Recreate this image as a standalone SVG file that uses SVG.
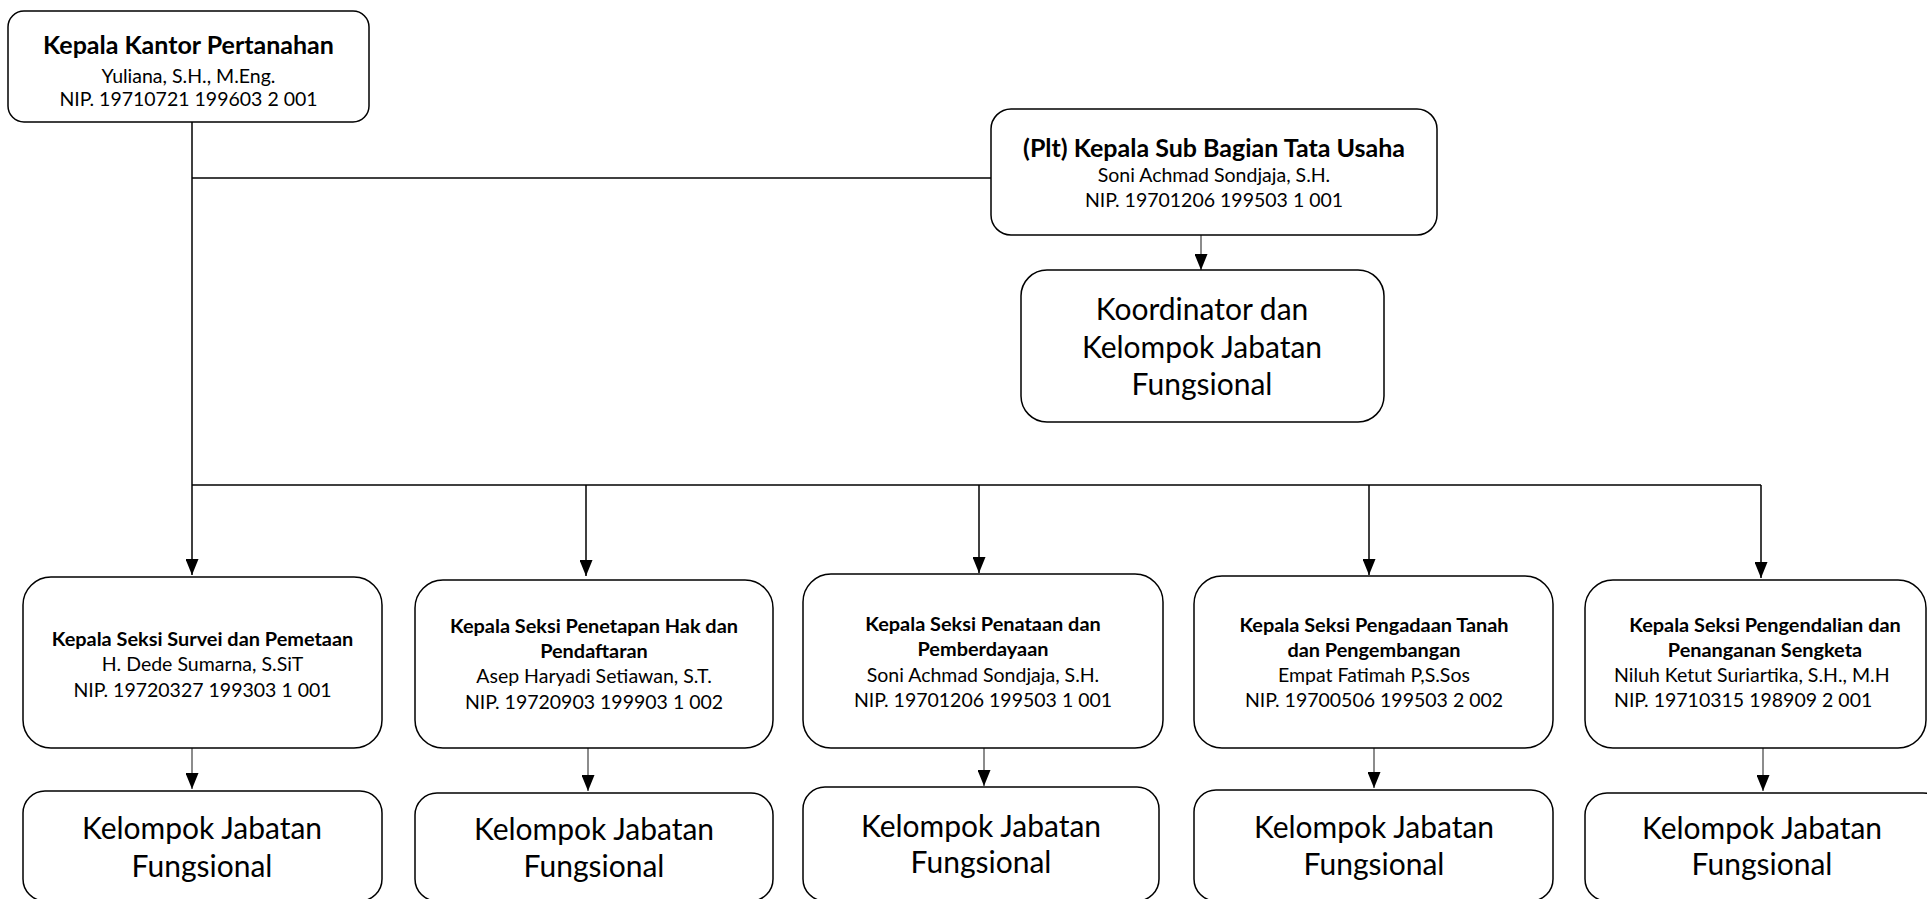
<svg xmlns="http://www.w3.org/2000/svg" width="1927" height="899" viewBox="0 0 1927 899">
<defs>
<style>
.box{fill:#fff;stroke:#000;stroke-width:1.5}
.t{font-family:Lato,"Liberation Sans",sans-serif;fill:#000;text-anchor:middle}
.tl{font-family:Lato,"Liberation Sans",sans-serif;fill:#000;text-anchor:start}
.h1{font-size:25px;font-weight:bold}
.h2{font-size:19.9px;font-weight:bold}
.s{font-size:19.5px}
.big{font-size:30px}
.ln{fill:none;stroke:#000;stroke-width:1.5}
.lg{fill:none;stroke:#666;stroke-width:1.5}
</style>
<marker id="arr" viewBox="0 0 16 13" refX="16" refY="6.5" markerWidth="16" markerHeight="13" markerUnits="userSpaceOnUse" orient="auto">
<path d="M0,0 L16,6.5 L0,13 z" fill="#000"/>
</marker>
</defs>
<rect width="1927" height="899" fill="#fff"/>
<g id="connectors">
<path class="ln" d="M192,122 V575" marker-end="url(#arr)"/>
<path class="ln" d="M192,178 H991"/>
<path class="ln" d="M192,485 H1761"/>
<path class="ln" d="M586,485 V576" marker-end="url(#arr)"/>
<path class="ln" d="M979,485 V573" marker-end="url(#arr)"/>
<path class="ln" d="M1369,485 V575" marker-end="url(#arr)"/>
<path class="ln" d="M1761,485 V578" marker-end="url(#arr)"/>
<path class="lg" d="M1201,235 V270" marker-end="url(#arr)"/>
<path class="lg" d="M192,748 V789" marker-end="url(#arr)"/>
<path class="lg" d="M588,748 V791" marker-end="url(#arr)"/>
<path class="lg" d="M984,748 V786" marker-end="url(#arr)"/>
<path class="lg" d="M1374,748 V788" marker-end="url(#arr)"/>
<path class="lg" d="M1763,748 V791" marker-end="url(#arr)"/>
</g>
<g id="kepala-kantor">
<rect class="box" x="8" y="11" width="361" height="111" rx="16"/>
<text class="t h1" x="188.5" y="54">Kepala Kantor Pertanahan</text>
<text class="t s" x="188.5" y="83">Yuliana, S.H., M.Eng.</text>
<text class="t s" x="188.5" y="106">NIP. 19710721 199603 2 001</text>
</g>
<g id="kasubag-tu">
<rect class="box" x="991" y="109" width="446" height="126" rx="20"/>
<text class="t h1" x="1214" y="157">(Plt) Kepala Sub Bagian Tata Usaha</text>
<text class="t s" x="1214" y="182">Soni Achmad Sondjaja, S.H.</text>
<text class="t s" x="1214" y="207">NIP. 19701206 199503 1 001</text>
</g>
<g id="koordinator">
<rect class="box" x="1021" y="270" width="363" height="152" rx="26"/>
<text class="t big" x="1202" y="320">Koordinator dan</text>
<text class="t big" x="1202" y="358">Kelompok Jabatan</text>
<text class="t big" x="1202" y="395">Fungsional</text>
</g>
<g id="seksi-survei">
<rect class="box" x="23" y="577" width="359" height="171" rx="28"/>
<text class="t h2" x="202.5" y="646">Kepala Seksi Survei dan Pemetaan</text>
<text class="t s" x="202.5" y="671">H. Dede Sumarna, S.SiT</text>
<text class="t s" x="202.5" y="697">NIP. 19720327 199303 1 001</text>
</g>
<g id="seksi-penetapan">
<rect class="box" x="415" y="580" width="358" height="168" rx="28"/>
<text class="t h2" x="594" y="633">Kepala Seksi Penetapan Hak dan</text>
<text class="t h2" x="594" y="658">Pendaftaran</text>
<text class="t s" x="594" y="683">Asep Haryadi Setiawan, S.T.</text>
<text class="t s" x="594" y="709">NIP. 19720903 199903 1 002</text>
</g>
<g id="seksi-penataan">
<rect class="box" x="803" y="574" width="360" height="174" rx="28"/>
<text class="t h2" x="983" y="631">Kepala Seksi Penataan dan</text>
<text class="t h2" x="983" y="656">Pemberdayaan</text>
<text class="t s" x="983" y="682">Soni Achmad Sondjaja, S.H.</text>
<text class="t s" x="983" y="707">NIP. 19701206 199503 1 001</text>
</g>
<g id="seksi-pengadaan">
<rect class="box" x="1194" y="576" width="359" height="172" rx="28"/>
<text class="t h2" x="1374" y="632">Kepala Seksi Pengadaan Tanah</text>
<text class="t h2" x="1374" y="657">dan Pengembangan</text>
<text class="t s" x="1374" y="682">Empat Fatimah P,S.Sos</text>
<text class="t s" x="1374" y="707">NIP. 19700506 199503 2 002</text>
</g>
<g id="seksi-pengendalian">
<rect class="box" x="1585" y="580" width="341" height="168" rx="28"/>
<text class="t h2" x="1765" y="632">Kepala Seksi Pengendalian dan</text>
<text class="t h2" x="1765" y="657">Penanganan Sengketa</text>
<text class="tl s" x="1614" y="682">Niluh Ketut Suriartika, S.H., M.H</text>
<text class="tl s" x="1614" y="707">NIP. 19710315 198909 2 001</text>
</g>
<g id="jf-survei">
<rect class="box" x="23" y="791" width="359" height="110" rx="22"/>
<text class="t big" x="202" y="839">Kelompok Jabatan</text>
<text class="t big" x="202" y="877">Fungsional</text>
</g>
<g id="jf-penetapan">
<rect class="box" x="415" y="793" width="358" height="108" rx="22"/>
<text class="t big" x="594" y="840">Kelompok Jabatan</text>
<text class="t big" x="594" y="877">Fungsional</text>
</g>
<g id="jf-penataan">
<rect class="box" x="803" y="787" width="356" height="114" rx="22"/>
<text class="t big" x="981" y="837">Kelompok Jabatan</text>
<text class="t big" x="981" y="873">Fungsional</text>
</g>
<g id="jf-pengadaan">
<rect class="box" x="1194" y="790" width="359" height="111" rx="22"/>
<text class="t big" x="1374" y="838">Kelompok Jabatan</text>
<text class="t big" x="1374" y="875">Fungsional</text>
</g>
<g id="jf-pengendalian">
<rect class="box" x="1585" y="793" width="360" height="108" rx="22"/>
<text class="t big" x="1762" y="839">Kelompok Jabatan</text>
<text class="t big" x="1762" y="875">Fungsional</text>
</g>
</svg>
